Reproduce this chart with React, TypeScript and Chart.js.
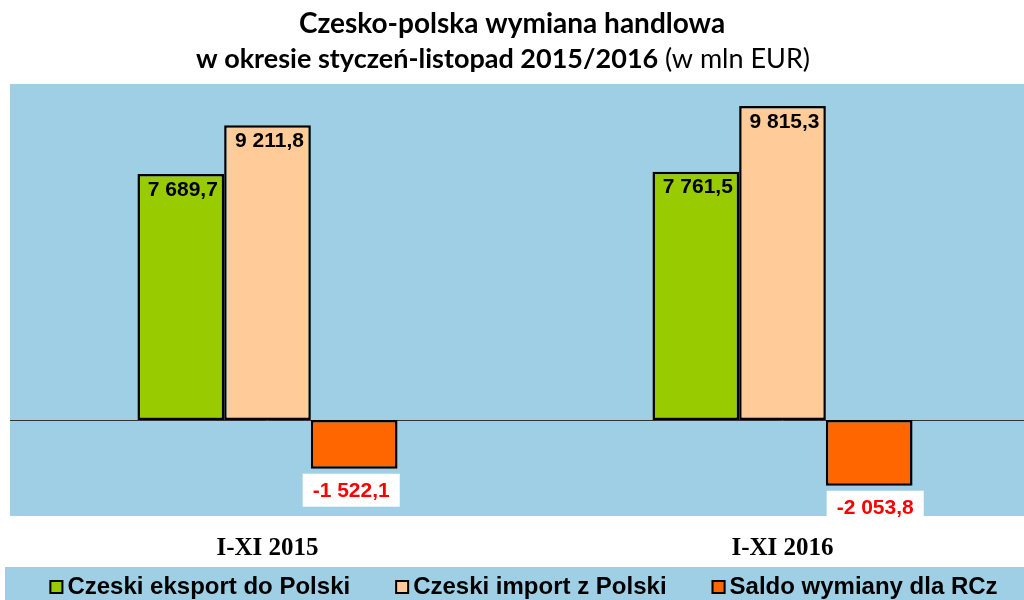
import React, { useEffect, useRef } from 'react';
import { Chart, registerables } from 'chart.js';

Chart.register(...registerables);

const categories = ['I-XI 2015', 'I-XI 2016'];
const seriesNames = ['Czeski eksport do Polski', 'Czeski import z Polski', 'Saldo wymiany dla RCz'];
const exportValues = [7689.7, 7761.5];
const importValues = [9211.8, 9815.3];
const balanceValues = [-1522.1, -2053.8];
const titleLine1 = 'Czesko-polska wymiana handlowa';
const titleLine2Bold = 'w okresie styczeń-listopad 2015/2016';
const titleLine2Normal = ' (w mln EUR)';
const yMin = -3000;
const yMax = 10500;

const seriesColors = ['#99CC00', '#FFCC99', '#FF6600'];
const PLOT_BG = '#9ECFE5';
const SANS = '"Liberation Sans", Arial, sans-serif';
const TITLE_FONT = 'Lato, "Open Sans", sans-serif';
const VIEW_W = 1024;
const VIEW_H = 600;
const CANVAS_W = 1040;

function fmt(v: number): string {
  const abs = Math.abs(v);
  const [i, d] = abs.toFixed(1).split('.');
  const grouped = i.replace(/\B(?=(\d{3})+(?!\d))/g, ' ');
  return (v < 0 ? '-' : '') + grouped + ',' + d;
}

const backgroundPlugin = {
  id: 'bgPlugin',
  beforeDraw(chart: any) {
    const { ctx, chartArea, width, height } = chart;
    ctx.save();
    ctx.fillStyle = '#FFFFFF';
    ctx.fillRect(0, 0, width, height);
    ctx.fillStyle = PLOT_BG;
    ctx.fillRect(chartArea.left, chartArea.top, chartArea.right - chartArea.left, chartArea.bottom - chartArea.top);
    // legend band
    ctx.fillRect(5, height - 33, width - 5, 33);
    ctx.restore();
  },
};

const zeroLinePlugin = {
  id: 'zeroLine',
  beforeDatasetsDraw(chart: any) {
    const { ctx, chartArea, scales } = chart;
    const y = Math.round(scales.y.getPixelForValue(0)) + 0.5;
    ctx.save();
    ctx.strokeStyle = '#333333';
    ctx.lineWidth = 1;
    ctx.beginPath();
    ctx.moveTo(chartArea.left, y);
    ctx.lineTo(chartArea.right, y);
    ctx.stroke();
    ctx.restore();
  },
};

const valueLabelPlugin = {
  id: 'valueLabels',
  afterDatasetsDraw(chart: any, _args: any, opts: any) {
    const { ctx } = chart;
    const nudge: number[] = (opts && opts.negativeNudge) || [];
    ctx.save();
    ctx.font = `bold 21px ${SANS}`;
    ctx.textAlign = 'center';
    ctx.textBaseline = 'middle';
    chart.data.datasets.forEach((ds: any, di: number) => {
      const meta = chart.getDatasetMeta(di);
      meta.data.forEach((el: any, i: number) => {
        const v = ds.data[i];
        const text = fmt(v);
        if (v >= 0) {
          ctx.fillStyle = '#000000';
          ctx.fillText(text, el.x + 2, el.y + 16);
        } else {
          const cx = el.x + (nudge[i] || 0);
          const tw = ctx.measureText(text).width;
          const boxW = tw + 20;
          const boxTop = el.y + 5;
          ctx.fillStyle = '#FFFFFF';
          ctx.fillRect(cx - boxW / 2, boxTop, boxW, 33);
          ctx.fillStyle = '#FF0000';
          ctx.fillText(text, cx, boxTop + 17);
        }
      });
    });
    ctx.restore();
  },
};

const titlePlugin = {
  id: 'customTitle',
  afterDraw(chart: any) {
    const { ctx } = chart;
    ctx.save();
    ctx.fillStyle = '#000000';
    ctx.textBaseline = 'alphabetic';
    ctx.textAlign = 'center';
    ctx.font = `bold 28px ${TITLE_FONT}`;
    ctx.fillText(titleLine1, VIEW_W / 2, 33);
    ctx.textAlign = 'left';
    ctx.font = `bold 27px ${TITLE_FONT}`;
    const boldW = ctx.measureText(titleLine2Bold).width;
    ctx.font = `27px ${TITLE_FONT}`;
    const normW = ctx.measureText(titleLine2Normal).width;
    const startX = VIEW_W / 2 - 9 - (boldW + normW) / 2;
    ctx.font = `bold 27px ${TITLE_FONT}`;
    ctx.fillText(titleLine2Bold, startX, 68);
    ctx.font = `27px ${TITLE_FONT}`;
    ctx.fillText(titleLine2Normal, startX + boldW, 68);
    ctx.restore();
  },
};

const legendPlugin = {
  id: 'customLegend',
  afterDraw(chart: any) {
    const { ctx, height } = chart;
    ctx.save();
    ctx.font = `bold 24px ${SANS}`;
    ctx.textBaseline = 'alphabetic';
    ctx.textAlign = 'left';
    const items = chart.data.datasets.map((ds: any) => ({
      text: ds.label as string,
      color: ds.backgroundColor as string,
      w: ctx.measureText(ds.label).width,
    }));
    const gap = 45;
    const box = 14;
    const textOff = 18;
    const total = items.reduce((s: number, it: any) => s + textOff + it.w, 0) + gap * (items.length - 1);
    let x = (5 + VIEW_W) / 2 + 9 - total / 2;
    const baseline = height - 6;
    items.forEach((it: any) => {
      ctx.fillStyle = it.color;
      ctx.fillRect(x, baseline - box, box, box);
      ctx.strokeStyle = '#000000';
      ctx.lineWidth = 2;
      ctx.strokeRect(x + 1, baseline - box + 1, box - 2, box - 2);
      ctx.fillStyle = '#000000';
      ctx.fillText(it.text, x + textOff, baseline);
      x += textOff + it.w + gap;
    });
    ctx.restore();
  },
};

export default function App() {
  const canvasRef = useRef<HTMLCanvasElement | null>(null);

  useEffect(() => {
    if (!canvasRef.current) return;
    const values = [exportValues, importValues, balanceValues];
    const chart = new Chart(canvasRef.current, {
      type: 'bar',
      data: {
        labels: categories,
        datasets: seriesNames.map((name, i) => ({
          label: name,
          data: values[i],
          backgroundColor: seriesColors[i],
          borderColor: '#000000',
          borderWidth: 2.5,
          borderSkipped: false,
          categoryPercentage: 0.505,
          barPercentage: 1,
        })),
      },
      options: {
        responsive: false,
        animation: false,
        layout: { padding: { top: 84, left: 10, right: 0, bottom: 26 } },
        plugins: {
          legend: { display: false },
          title: { display: false },
          tooltip: { enabled: false },
          valueLabels: { negativeNudge: [-3, 6] },
        } as any,
        scales: {
          x: {
            type: 'category',
            grid: { display: false },
            border: { display: false },
            ticks: {
              color: '#000000',
              padding: 10,
              font: { family: '"Liberation Serif", "Times New Roman", serif', weight: 'bold', size: 25 },
            },
          },
          y: {
            display: false,
            min: yMin,
            max: yMax,
          },
        },
      },
      plugins: [backgroundPlugin, zeroLinePlugin, valueLabelPlugin, titlePlugin, legendPlugin],
    });
    return () => chart.destroy();
  }, []);

  return (
    <div style={{ position: 'fixed', left: 0, top: 0, width: VIEW_W, height: VIEW_H, overflow: 'hidden', background: '#FFFFFF' }}>
      <canvas ref={canvasRef} width={CANVAS_W} height={VIEW_H} style={{ display: 'block' }} />
    </div>
  );
}
